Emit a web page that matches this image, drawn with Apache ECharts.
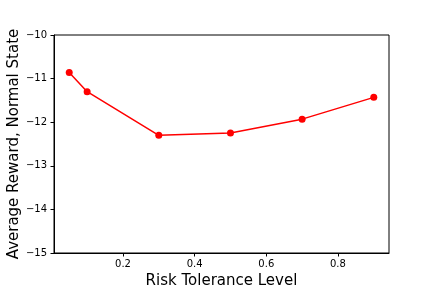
<!DOCTYPE html>
<html>
<head>
<meta charset="utf-8">
<script src="https://cdn.jsdelivr.net/npm/echarts@6/dist/echarts.min.js"></script>
<style>html,body{margin:0;padding:0;background:#fff;}#c{width:432px;height:288px;}</style>
</head>
<body>
<div id="c"></div>
<script>
const riskLevels = [0.05, 0.1, 0.3, 0.5, 0.7, 0.9];
const avgReward = [-10.86, -11.30, -12.30, -12.25, -11.93, -11.43];
const xTicks = [0.2, 0.4, 0.6, 0.8];
const yTicks = [-15, -14, -13, -12, -11, -10];

const chart = echarts.init(document.getElementById('c'), null, {renderer: 'canvas'});
const font = 'DejaVu Sans';
chart.setOption({
  animation: false,
  backgroundColor: '#fff',
  grid: {left: 54, right: 43, top: 35, bottom: 35, outerBoundsMode: 'none', containLabel: false, show: true, borderColor: '#000', borderWidth: 1, backgroundColor: 'transparent'},
  xAxis: {
    type: 'value', min: 0.0075, max: 0.9425,
    name: 'Risk Tolerance Level', nameLocation: 'middle', nameGap: 21, nameMoveOverlap: false,
    nameTextStyle: {fontFamily: font, fontSize: 15, color: '#000', verticalAlign: 'top'},
    axisLine: {show: true, onZero: false, lineStyle: {color: '#000', width: 1}},
    axisTick: {show: true, length: 3.5, inside: false, customValues: xTicks, lineStyle: {color: '#000'}},
    axisLabel: {customValues: xTicks, margin: 6, fontFamily: font, fontSize: 10, color: '#000', formatter: v => v.toFixed(1)},
    splitLine: {show: false}
  },
  yAxis: {
    type: 'value', min: -15, max: -10, interval: 1,
    name: 'Average Reward, Normal State', nameLocation: 'middle', nameGap: 32, nameMoveOverlap: false,
    nameTextStyle: {fontFamily: font, fontSize: 15, color: '#000'},
    axisLine: {show: true, onZero: false, lineStyle: {color: '#000', width: 1}},
    axisTick: {show: true, length: 3.5, lineStyle: {color: '#000'}},
    axisLabel: {margin: 7, fontFamily: font, fontSize: 10, color: '#000', formatter: v => String(v).replace('-', '\u2212')},
    splitLine: {show: false}
  },
  series: [{
    type: 'line',
    data: riskLevels.map((x, i) => [x, avgReward[i]]),
    symbol: 'circle', symbolSize: 7,
    itemStyle: {color: '#ff0000'},
    lineStyle: {color: '#ff0000', width: 1.5}
  }]
});
</script>
</body>
</html>
